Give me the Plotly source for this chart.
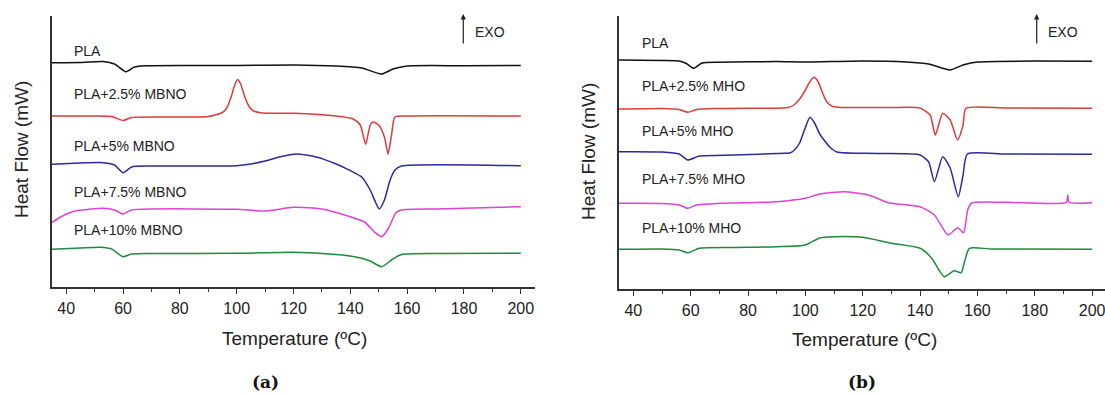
import plotly.graph_objects as go

# ---------------- data: panel (a) MBNO ----------------
pla_a_T = [35, 45, 53, 57, 61, 64, 68, 100, 120, 135, 144, 151, 155, 160, 180, 200]
pla_a_H = [22.43, 22.45, 22.55, 22.3, 21.53, 22.0, 22.13, 22.15, 22.2, 22.1, 21.9, 21.3, 21.8, 22.1, 22.13, 22.15]

mbno25_T = [35, 50, 56, 60, 63, 75, 90, 95, 96.5, 98.1, 99.3, 100.3, 101.4, 102.8, 104.5, 106, 109, 120, 135, 141, 143.5, 145.4, 147, 148, 150, 152, 153.3, 154.5, 155.7, 160, 200]
mbno25_H = [17.1, 17.1, 17.05, 16.65, 16.95, 17.0, 17.05, 17.45, 17.9, 19.06, 20.2, 20.75, 20.3, 19.06, 18.0, 17.6, 17.4, 17.37, 17.1, 16.8, 16.2, 14.27, 16.2, 16.5, 16.2, 15.0, 13.3, 15.2, 17.0, 17.1, 17.1]

mbno5_T = [35, 45, 52, 57, 60, 63, 70, 100, 105, 110, 115, 121, 128, 135, 140, 144, 147, 150.2, 152, 154, 155.7, 158, 200]
mbno5_H = [12.27, 12.4, 12.45, 12.2, 11.43, 12.0, 12.1, 12.13, 12.3, 12.6, 13.0, 13.3, 13.0, 12.3, 11.63, 11.0, 9.7, 7.8, 8.7, 10.7, 11.7, 12.1, 12.13]

mbno75_T = [35, 38, 43, 48, 53, 57, 60, 63, 70, 100, 110, 120, 130, 140, 145, 148.5, 151, 153.5, 156, 158, 170, 190, 200]
mbno75_H = [6.45, 7.0, 7.6, 7.77, 7.87, 7.7, 7.3, 7.7, 7.8, 7.77, 7.6, 7.97, 7.8, 7.03, 6.5, 5.5, 5.03, 5.9, 7.4, 7.7, 7.8, 7.95, 8.03]

mbno10_T = [35, 45, 52, 56, 60, 63, 70, 100, 120, 135, 142, 147, 151, 155, 158, 170, 200]
mbno10_H = [3.77, 3.9, 3.97, 3.8, 3.03, 3.3, 3.35, 3.37, 3.47, 3.25, 3.0, 2.6, 2.03, 2.8, 3.25, 3.35, 3.37]

# ---------------- data: panel (b) MHO ----------------
pla_b_T = [35, 50, 56, 58.5, 61, 64, 70, 90, 100, 120, 135, 143, 150.4, 155, 160, 200]
pla_b_H = [22.9, 22.85, 22.8, 22.55, 22.07, 22.6, 22.67, 22.75, 22.7, 22.8, 22.7, 22.5, 21.9, 22.4, 22.7, 22.77]

mho25_T = [35, 50, 56, 59, 62, 70, 92, 94, 96, 98, 100, 101.5, 103, 104.5, 106, 107.5, 109.5, 113, 130, 140, 143.5, 145.3, 147.9, 150.5, 153.1, 155, 156, 170, 200]
mho25_H = [18.0, 18.05, 17.95, 17.67, 17.95, 18.05, 18.1, 18.15, 18.4, 19.0, 19.9, 20.7, 21.17, 20.7, 19.6, 18.7, 18.25, 18.15, 18.15, 18.1, 17.4, 15.4, 17.57, 16.9, 14.9, 16.4, 18.07, 18.1, 18.07]

mho5_T = [35, 50, 56, 59, 63, 75, 93, 94.5, 96, 98, 99.8, 101.6, 103.2, 105, 106.5, 108.5, 111, 125, 140, 143, 145, 147.9, 150.5, 153.3, 155, 156.5, 170, 200]
mho5_H = [13.73, 13.7, 13.5, 12.9, 13.3, 13.4, 13.57, 13.6, 13.85, 14.6, 16.0, 17.17, 16.6, 15.5, 14.9, 14.2, 13.7, 13.55, 13.4, 12.7, 10.73, 13.23, 12.1, 9.23, 11.4, 13.5, 13.5, 13.47]

mho75_T = [35, 50, 56, 59, 62, 70, 90, 100, 105, 113.5, 122, 129, 140, 145, 149.8, 153.1, 155.2, 156.6, 158, 170, 191, 191.5, 192, 200]
mho75_H = [8.57, 8.55, 8.4, 8.07, 8.4, 8.57, 8.73, 9.07, 9.5, 9.73, 9.4, 8.63, 8.23, 7.4, 5.4, 6.13, 5.63, 7.9, 8.6, 8.67, 8.67, 9.4, 8.67, 8.63]

mho10_T = [35, 50, 56, 59, 63, 75, 90, 100, 105, 110, 120, 130, 140, 144, 148.4, 151.9, 154.3, 155.5, 157.2, 165, 200]
mho10_H = [3.97, 4.0, 3.9, 3.63, 4.07, 4.15, 4.23, 4.4, 5.1, 5.23, 5.17, 4.57, 4.07, 3.1, 1.23, 1.83, 1.63, 2.7, 4.07, 4.0, 3.97]

labels_a = ["PLA", "PLA+2.5% MBNO", "PLA+5% MBNO", "PLA+7.5% MBNO", "PLA+10% MBNO"]
labels_b = ["PLA", "PLA+2.5% MHO", "PLA+5% MHO", "PLA+7.5% MHO", "PLA+10% MHO"]
colors = ["#111111", "#e03a3a", "#2a2aa0", "#e040d8", "#1e8a3c"]

series_a = [(pla_a_T, pla_a_H), (mbno25_T, mbno25_H), (mbno5_T, mbno5_H), (mbno75_T, mbno75_H), (mbno10_T, mbno10_H)]
series_b = [(pla_b_T, pla_b_H), (mho25_T, mho25_H), (mho5_T, mho5_H), (mho75_T, mho75_H), (mho10_T, mho10_H)]

W, H = 1105, 394
FONT = "Arial, Liberation Sans, sans-serif"
TXT = "#222222"

fig = go.Figure()
for (T, Hf), c, name in zip(series_a, colors, labels_a):
    fig.add_trace(go.Scatter(x=T, y=Hf, mode="lines", name=name, xaxis="x", yaxis="y",
                             line=dict(color=c, width=1.5, shape="spline", smoothing=0.6)))
for (T, Hf), c, name in zip(series_b, colors, labels_b):
    fig.add_trace(go.Scatter(x=T, y=Hf, mode="lines", name=name, xaxis="x2", yaxis="y2",
                             line=dict(color=c, width=1.5, shape="spline", smoothing=0.6)))

def xax(domain, rng, anchor):
    return dict(domain=domain, range=rng, anchor=anchor, showline=True, linecolor="#333333", linewidth=1.5,
                ticks="outside", ticklen=5, tickwidth=1.2, tickcolor="#333333", tick0=40, dtick=20,
                minor=dict(ticks="outside", ticklen=3, tickwidth=1.2, tickcolor="#333333", dtick=10, tick0=40, showgrid=False),
                showgrid=False, zeroline=False, ticklabelstandoff=1, ticklabeloverflow="allow",
                tickfont=dict(family=FONT, size=16, color=TXT))

def yax(domain, rng, anchor):
    return dict(domain=domain, range=rng, anchor=anchor, showline=True, linecolor="#333333", linewidth=1.5,
                ticks="", showticklabels=False, showgrid=False, zeroline=False)

fig.update_layout(
    width=W, height=H, margin=dict(l=0, r=0, t=0, b=0),
    paper_bgcolor="white", plot_bgcolor="white", showlegend=False,
    xaxis=xax([52 / W, 535 / W], [35, 205], "y"),
    yaxis=yax([(H - 287) / H, (H - 16) / H], [0, 27.1], "x"),
    xaxis2=xax([619 / W, 1.0], [35, 204.5], "y2"),
    yaxis2=yax([(H - 289) / H, (H - 16) / H], [0, 27.3], "x2"),
)

ann = []
def txt(x, y, s, size, **kw):
    d = dict(x=x / W, y=1 - y / H, xref="paper", yref="paper", text=s, showarrow=False,
             font=dict(family=FONT, size=size, color=TXT), xanchor="center", yanchor="middle")
    d.update(kw)
    ann.append(d)

# curve labels
lab_y_a = [51, 94.3, 145.7, 192.3, 230]
lab_y_b = [42.7, 86, 130.7, 179, 227.7]
for s, y in zip(labels_a, lab_y_a):
    txt(72, y, s, 14, xanchor="left")
for s, y in zip(labels_b, lab_y_b):
    txt(640, y, s, 14, xanchor="left")

# axis titles
txt(22, 150, "Heat Flow (mW)", 19, textangle=-90)
txt(588, 152, "Heat Flow (mW)", 19, textangle=-90)
txt(294, 338, "Temperature (ºC)", 19)
txt(864, 339, "Temperature (ºC)", 19)
# panel labels
for xp, s in [(265, "<b>(a)</b>"), (862, "<b>(b)</b>")]:
    ann.append(dict(x=xp / W, y=1 - 382 / H, xref="paper", yref="paper", text=s, showarrow=False,
                    font=dict(family="DejaVu Serif, Liberation Serif, serif", size=17, color="#111"),
                    xanchor="center", yanchor="middle"))
# EXO arrows
for xa, xt in [(463.3, 490), (1036.7, 1063)]:
    ann.append(dict(x=xa / W, y=1 - 14 / H, xref="paper", yref="paper", ax=0, ay=31, text="",
                    showarrow=True, arrowhead=2, arrowsize=0.9, arrowwidth=1.2, arrowcolor="#222"))
    txt(xt, 32.3, "EXO", 14)

fig.update_layout(annotations=ann)
fig.write_html("out.html")
